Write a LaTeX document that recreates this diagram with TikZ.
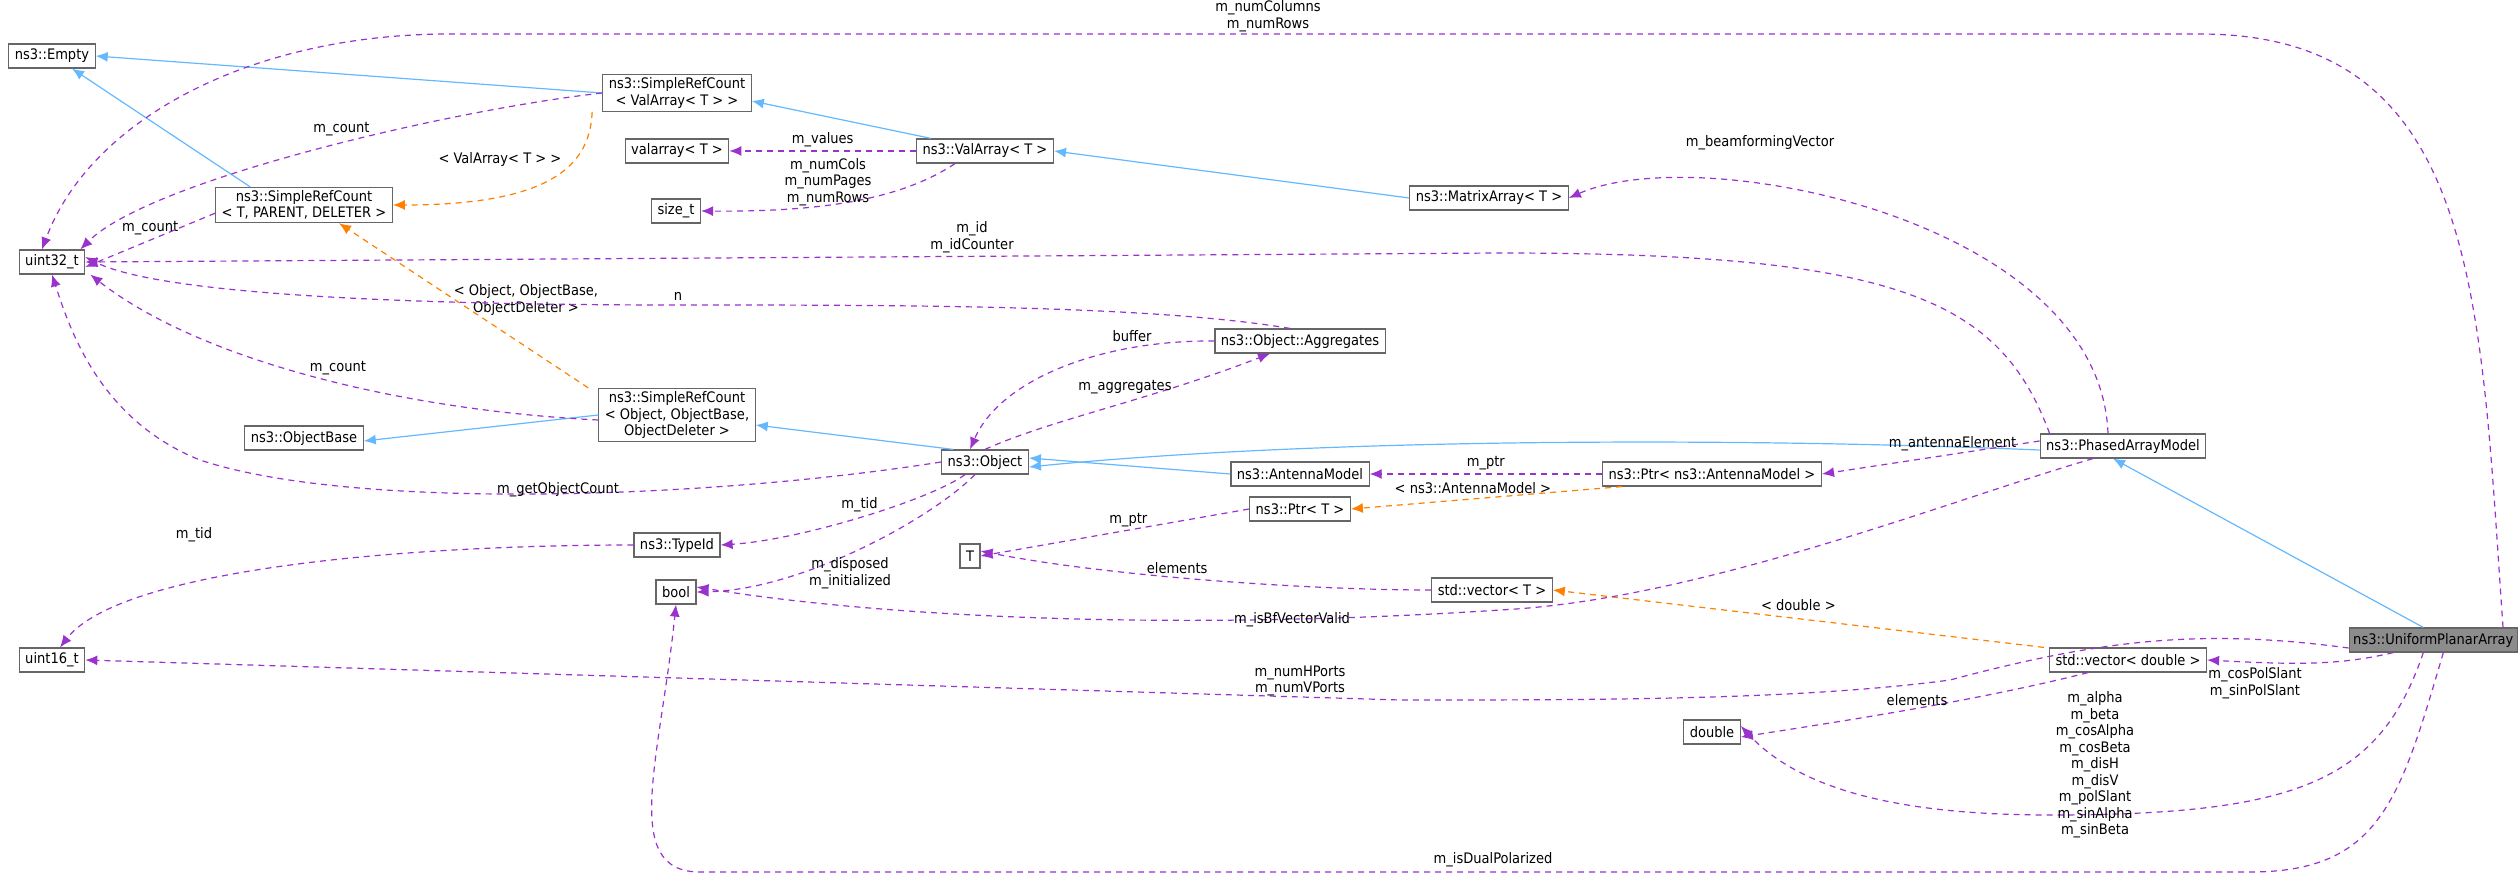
\documentclass[tikz,border=0pt]{standalone}
\usepackage{fontspec}
\setmainfont{DejaVu Sans Condensed}
\usetikzlibrary{arrows.meta}
\begin{document}
\begin{tikzpicture}[x=1pt,y=-1pt,
  box/.style={draw=black!60,line width=1.2pt,fill=white,inner xsep=6pt,inner ysep=3pt,minimum height=24pt,font=\fontsize{14.5}{16.5}\selectfont,align=center},
  inh/.style={draw={rgb,255:red,99;green,184;blue,255},line width=1.2pt,-{Latex[length=12pt,width=10pt]}},
  tpl/.style={draw=orange,dashed,dash pattern=on 6pt off 5pt,line width=1.2pt,-{Latex[length=12pt,width=10pt]}},
  mem/.style={draw={rgb,255:red,154;green,50;blue,205},dashed,dash pattern=on 6pt off 5pt,line width=1.2pt,-{Latex[length=12pt,width=10pt]}},
  lab/.style={font=\fontsize{14.5}{16.5}\selectfont,align=center,inner sep=1pt}]
\useasboundingbox (0,0) rectangle (2520,896);
\node[box] (empty) at (52,56) {ns3::Empty};
\node[box] (srcva) at (677,93) {ns3::SimpleRefCount\\< ValArray< T > >};
\node[box] (valarr) at (677,151) {valarray< T >};
\node[box] (sizet) at (676,211) {size\_t};
\node[box] (va) at (985,151) {ns3::ValArray< T >};
\node[box] (matrix) at (1489,198) {ns3::MatrixArray< T >};
\node[box] (srctpd) at (304,205) {ns3::SimpleRefCount\\< T, PARENT, DELETER >};
\node[box] (uint) at (52,262) {uint32\_t};
\node[box] (aggr) at (1300,341) {ns3::Object::Aggregates};
\node[box] (srcobj) at (677,415) {ns3::SimpleRefCount\\< Object, ObjectBase,\\ObjectDeleter >};
\node[box] (objbase) at (304,438) {ns3::ObjectBase};
\node[box] (object) at (985,462) {ns3::Object};
\node[box] (pam) at (2123,446) {ns3::PhasedArrayModel};
\node[box] (antenna) at (1300,474) {ns3::AntennaModel};
\node[box] (ptram) at (1712,474) {ns3::Ptr< ns3::AntennaModel >};
\node[box] (typeid) at (677,545) {ns3::TypeId};
\node[box] (ptrt) at (1300,509) {ns3::Ptr< T >};
\node[box] (T) at (970,556) {T};
\node[box] (bool) at (676,592) {bool};
\node[box] (vect) at (1492,590) {std::vector< T >};
\node[box] (uint16) at (52,660) {uint16\_t};
\node[box,fill=black!45,inner xsep=4pt,anchor=east] (upa) at (2518,640) {ns3::UniformPlanarArray};
\node[box] (vecd) at (2128,660) {std::vector< double >};
\node[box] (double) at (1712,732) {double};

% inheritance
\draw[inh] (srcva.west) -- (empty.east);
\draw[inh] ([xshift=35]srctpd.north west) -- ([xshift=20]empty.south);
\draw[inh] ([xshift=15]va.north west) -- ([yshift=-8]srcva.east);
\draw[inh] (matrix.west) -- (va.east);
\draw[inh] (srcobj.west) -- ([yshift=-3]objbase.east);
\draw[inh] ([xshift=12]object.north west) -- ([yshift=-10]srcobj.east);
\draw[inh] ([yshift=-4]pam.west) .. controls (1700,436) and (1300,440) .. ([yshift=-5]object.east);
\draw[inh] (antenna.west) -- ([yshift=4]object.east);
\draw[inh] ([xshift=-10]upa.north) -- ([xshift=-10]pam.south);

% templates
\draw[tpl] ([xshift=-10]srcva.south west) .. controls (590,160) and (560,205) .. (srctpd.east) node[lab,pos=0.35,left=12pt] {< ValArray< T > >};
\draw[tpl] ([xshift=-10]srcobj.north west) -- ([xshift=35]srctpd.south) node[lab,pos=0.25,above=30pt] {< Object, ObjectBase,\\ObjectDeleter >};
\draw[tpl] ([xshift=20]ptram.south west) -- (ptrt.east) node[lab,pos=0.55,above=4pt] {< ns3::AntennaModel >};
\draw[tpl] ([xshift=-5]vecd.north west) -- (vect.east) node[lab,pos=0.5,above=6pt] {< double >};

% members
\draw[mem] ([xshift=-15]upa.north east) .. controls (2480,300) and (2480,34) .. (2200,34) -- (450,34) .. controls (250,34) and (90,120) .. ([xshift=-10]uint.north);
\node[lab] at (1268,16) {m\_numColumns\\m\_numRows};
\draw[mem] (srcva.west) .. controls (450,110) and (150,180) .. ([xshift=-5]uint.north east) node[lab,pos=0.45,above=6pt] {m\_count};
\draw[mem] ([yshift=10]srctpd.south west) -- ([yshift=-5]uint.east) node[lab,pos=0.5,above=4pt] {m\_count};
\draw[mem] ([xshift=10]pam.north west) .. controls (2000,300) and (1900,253) .. (1500,253) -- (uint.east);
\node[lab] at (972,237) {m\_id\\m\_idCounter};
\draw[mem] ([xshift=-10]aggr.north) .. controls (1150,305) and (900,305) .. (680,305) .. controls (350,305) and (150,290) .. ([yshift=5]uint.east);
\node[lab] at (678,296) {n};
\draw[mem] ([yshift=-5]srcobj.west) .. controls (400,410) and (200,360) .. ([xshift=5]uint.south east) node[lab,pos=0.45,above=6pt] {m\_count};
\draw[mem] (object.west) .. controls (700,500) and (350,510) .. (200,460) .. controls (100,420) and (70,330) .. (uint.south);
\node[lab] at (558,490) {m\_getObjectCount};
\draw[mem] (va.west) -- (valarr.east) node[lab,pos=0.5,above=2pt] {m\_values};
\draw[mem] ([xshift=-30]va.south) .. controls (900,200) and (820,212) .. (sizet.east);
\node[lab] at (828,182) {m\_numCols\\m\_numPages\\m\_numRows};
\draw[mem] ([xshift=-15]pam.north) .. controls (2100,220) and (1700,140) .. (matrix.east);
\node[lab] at (1760,143) {m\_beamformingVector};
\draw[mem] (aggr.west) .. controls (1100,340) and (1000,380) .. ([xshift=-15]object.north) node[lab,pos=0.25,above=4pt] {buffer};
\draw[mem] (object.north) .. controls (1050,420) and (1150,400) .. ([xshift=-30]aggr.south);
\node[lab] at (1125,387) {m\_aggregates};
\draw[mem] ([yshift=5]pam.west) -- (ptram.east) node[lab,pos=0.4,above=2pt] {m\_antennaElement};
\draw[mem] (ptram.west) -- (antenna.east) node[lab,pos=0.5,above=2pt] {m\_ptr};
\draw[mem] ([xshift=-20]object.south) .. controls (930,500) and (800,540) .. (typeid.east) node[lab,pos=0.5,above=4pt] {m\_tid};
\draw[mem] (ptrt.west) -- (T.east) node[lab,pos=0.45,above=2pt] {m\_ptr};
\draw[mem] (vect.west) .. controls (1300,590) and (1100,575) .. ([yshift=5]T.east) node[lab,pos=0.55,above=2pt] {elements};
\draw[mem] ([xshift=-10]object.south) .. controls (930,520) and (800,590) .. (bool.east);
\node[lab] at (850,573) {m\_disposed\\m\_initialized};
\draw[mem] ([xshift=-30]pam.south) .. controls (1950,500) and (1700,600) .. (1500,610) .. controls (1200,630) and (900,620) .. ([yshift=5]bool.east);
\node[lab] at (1292,620) {m\_isBfVectorValid};
\draw[mem] (typeid.west) .. controls (400,545) and (120,570) .. ([xshift=8]uint16.north);
\node[lab] at (194,535) {m\_tid};
\draw[mem] ([yshift=-8]upa.west) .. controls (2200,628) and (2100,640) .. (1950,680) .. controls (1800,700) and (1600,700) .. (1400,700) -- (uint16.east);
\node[lab] at (1300,681) {m\_numHPorts\\m\_numVPorts};
\draw[mem] ([xshift=-40]upa.south) .. controls (2340,665) and (2300,665) .. (vecd.east);
\node[lab] at (2255,683) {m\_cosPolSlant\\m\_sinPolSlant};
\draw[mem] ([xshift=-40]vecd.south) .. controls (1980,700) and (1850,720) .. ([yshift=-5]double.east);
\node[lab] at (1917,700) {elements};
\draw[mem] ([xshift=-10]upa.south) .. controls (2380,780) and (2300,815) .. (2050,815) .. controls (1900,815) and (1800,790) .. ([yshift=6]double.east);
\node[lab] at (2095,765) {m\_alpha\\m\_beta\\m\_cosAlpha\\m\_cosBeta\\m\_disH\\m\_disV\\m\_polSlant\\m\_sinAlpha\\m\_sinBeta};
\draw[mem] ([xshift=10]upa.south) .. controls (2400,800) and (2380,872) .. (2250,872) -- (700,872) .. controls (620,872) and (660,760) .. (bool.south);
\node[lab] at (1493,860) {m\_isDualPolarized};
\end{tikzpicture}
\end{document}
